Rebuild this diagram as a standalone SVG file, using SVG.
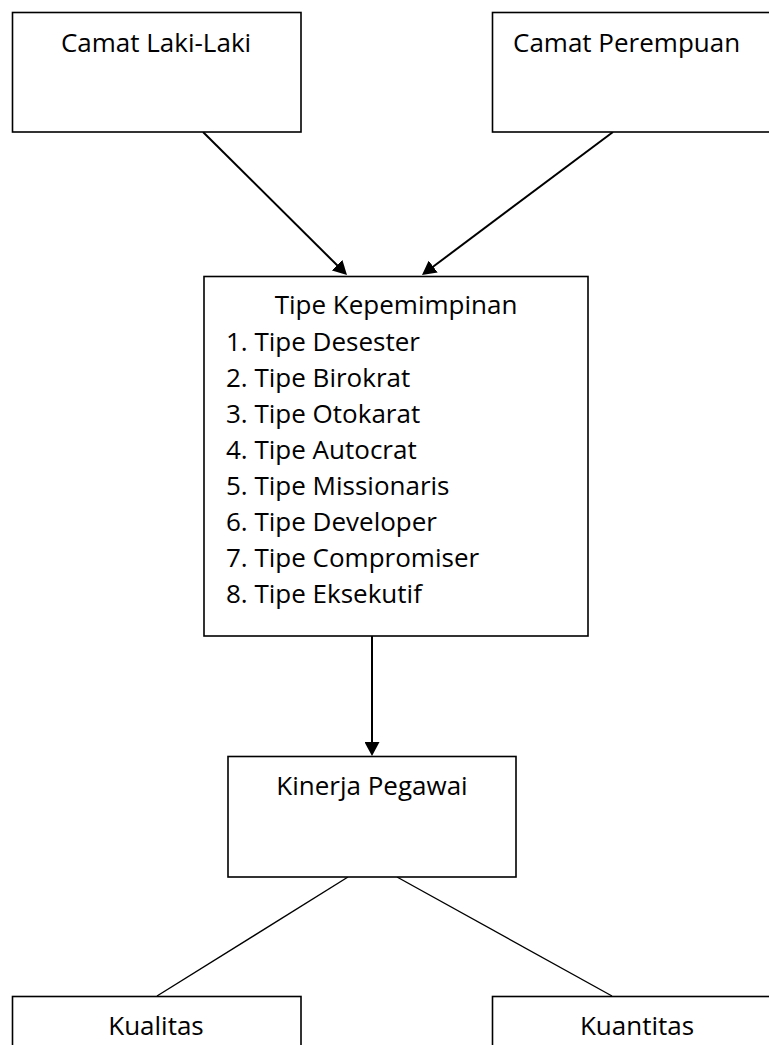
<svg xmlns="http://www.w3.org/2000/svg" width="769" height="1045" viewBox="0 0 769 1045">
<style>
.box{fill:#fff;stroke:#000;stroke-width:1.6}
.t{font-family:"Open Sans","Noto Sans",sans-serif;font-size:26px;fill:#000}
.c{text-anchor:middle}
.arr{stroke:#000;stroke-width:2;fill:none}
.ln{stroke:#000;stroke-width:1.4;fill:none}
</style>
<defs>
<marker id="ah" viewBox="0 0 14 15" refX="4" refY="7.5" markerWidth="14" markerHeight="15" markerUnits="userSpaceOnUse" orient="auto">
<path d="M0,0 L14,7.5 L0,15 Z" fill="#000"/>
</marker>
</defs>
<rect width="769" height="1045" fill="#fff"/>
<g id="connectors">
<line class="arr" x1="203" y1="132" x2="339.9" y2="268" marker-end="url(#ah)"/>
<line class="arr" x1="613" y1="132" x2="430" y2="269" marker-end="url(#ah)"/>
<line class="arr" x1="372" y1="636" x2="372" y2="746" marker-end="url(#ah)"/>
<line class="ln" x1="348" y1="877" x2="157" y2="996"/>
<line class="ln" x1="397" y1="877" x2="612" y2="996"/>
</g>
<g id="camat-laki">
<rect class="box" x="12.5" y="12.5" width="288.5" height="119.5"/>
<text class="t c" x="156" y="52">Camat Laki-Laki</text>
</g>
<g id="camat-perempuan">
<rect class="box" x="492.5" y="12.5" width="288.5" height="119.5"/>
<text class="t" x="513" y="52">Camat Perempuan</text>
</g>
<g id="tipe">
<rect class="box" x="204" y="276.5" width="384" height="359.5"/>
<text class="t c" x="396" y="314">Tipe Kepemimpinan</text>
<text class="t" x="226" y="351">1. Tipe Desester</text>
<text class="t" x="226" y="387">2. Tipe Birokrat</text>
<text class="t" x="226" y="423">3. Tipe Otokarat</text>
<text class="t" x="226" y="459">4. Tipe Autocrat</text>
<text class="t" x="226" y="495">5. Tipe Missionaris</text>
<text class="t" x="226" y="531">6. Tipe Developer</text>
<text class="t" x="226" y="567">7. Tipe Compromiser</text>
<text class="t" x="226" y="603">8. Tipe Eksekutif</text>
</g>
<g id="kinerja">
<rect class="box" x="228" y="756.5" width="288" height="120.5"/>
<text class="t c" x="372" y="795">Kinerja Pegawai</text>
</g>
<g id="kualitas">
<rect class="box" x="12.5" y="996.5" width="288.5" height="60"/>
<text class="t c" x="156" y="1035">Kualitas</text>
</g>
<g id="kuantitas">
<rect class="box" x="492.5" y="996.5" width="288.5" height="60"/>
<text class="t c" x="637" y="1035">Kuantitas</text>
</g>
</svg>
